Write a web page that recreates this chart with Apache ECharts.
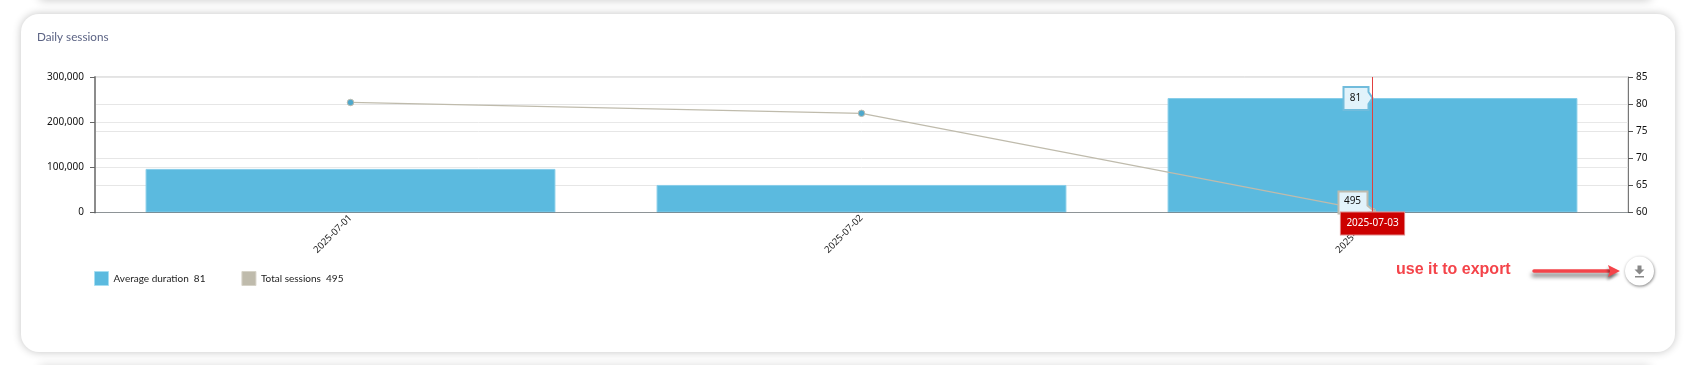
<!DOCTYPE html>
<html>
<head>
<meta charset="utf-8">
<style>
html,body{margin:0;padding:0;width:1688px;height:365px;background:#fff;overflow:hidden}
#top{position:absolute;left:40px;top:-30px;width:1610px;height:30px;box-shadow:0 0 9px rgba(0,0,0,.22)}
#below{position:absolute;left:40px;top:365px;width:1610px;height:30px;box-shadow:0 0 9px rgba(0,0,0,.14)}
#card{position:absolute;left:21px;top:14px;width:1654px;height:338px;background:#fff;border-radius:18px;box-shadow:0 0 9px rgba(0,0,0,.24)}
#chart{position:absolute;left:0;top:0;width:1688px;height:365px}
</style>
<script src="https://cdn.jsdelivr.net/npm/echarts@6/dist/echarts.min.js"></script>
</head>
<body>
<div id="top"></div><div id="below"></div><div id="card"></div>
<div id="chart"></div>
<script>
const categories = ['2025-07-01', '2025-07-02', '2025-07-03'];
const barValues = [96500, 61000, 253400];
const lineValues = [80.3, 78.3, 60.2];
const seriesNames = ['Average duration', 'Total sessions'];
const legendReadouts = ['81', '495'];
const hoverCategory = '2025-07-03';
const leftTicks = { min: 0, max: 300000, interval: 100000 };
const rightTicks = { min: 60, max: 85, interval: 5 };

const FONT = '"Noto Sans", sans-serif';
const SOFT = 'Lato, "Noto Sans", sans-serif';
const BLUE = '#5bbadf';
const TAUPE = '#bfbbac';

function callout(points, border, textX, textY) {
  return function (params, api) {
    const p = api.coord([api.value(0), api.value(1)]);
    return {
      type: 'group',
      children: [
        {
          type: 'polygon',
          shape: { points: points.map(q => [p[0] + q[0], p[1] + q[1]]) },
          style: { fill: '#e2f3fb', stroke: border, lineWidth: 2 }
        },
        {
          type: 'text',
          style: {
            x: p[0] + textX, y: p[1] + textY, text: api.value(2),
            fill: '#111', font: '10px ' + FONT, align: 'center', verticalAlign: 'middle'
          }
        }
      ]
    };
  };
}

const chart = echarts.init(document.getElementById('chart'), null, { renderer: 'canvas', width: 1688, height: 365 });
chart.setOption({
  animation: false,
  backgroundColor: 'transparent',
  textStyle: { fontFamily: FONT },
  title: {
    text: 'Daily sessions', left: 37, top: 31, padding: 0,
    textStyle: { fontFamily: SOFT, fontSize: 11.7, fontWeight: 'normal', color: '#5b6384' }
  },
  legend: {
    left: 94, top: 271, padding: 0, itemWidth: 14, itemHeight: 14, itemGap: 36, selectedMode: false,
    data: [
      { name: seriesNames[0], icon: 'rect', itemStyle: { color: BLUE, borderColor: '#a6def2', borderWidth: 1 } },
      { name: seriesNames[1], icon: 'rect', itemStyle: { color: TAUPE, borderColor: '#d6d3c8', borderWidth: 1 } }
    ],
    formatter: n => n + '  ' + legendReadouts[seriesNames.indexOf(n)],
    textStyle: { fontFamily: SOFT, fontSize: 10, color: '#222' }
  },
  grid: { left: 95, right: 60, top: 77, bottom: 152.5, show: true, borderColor: '#c6c6c6', borderWidth: 1, backgroundColor: 'transparent' },
  xAxis: {
    type: 'category', data: categories, z: 4,
    axisTick: { show: false },
    axisLine: { lineStyle: { color: 'rgba(70,80,85,.55)', width: 1 } },
    axisLabel: { rotate: 45, fontSize: 9.5, color: '#222', margin: 4, fontFamily: FONT, interval: 0 },
    splitLine: { show: false },
    axisPointer: {
      show: true, value: hoverCategory, status: 'show', type: 'line', triggerTooltip: false,
      lineStyle: { color: '#e2403f', width: 1, type: 'solid' },
      label: {
        show: true, margin: 0, backgroundColor: '#cc0000', color: '#fff', fontSize: 10, borderRadius: 0,
        fontFamily: FONT, padding: [6, 5.5, 6, 5.5], borderColor: '#e08a8a', borderWidth: 1, shadowBlur: 0
      }
    }
  },
  yAxis: [
    {
      type: 'value', position: 'left', min: leftTicks.min, max: leftTicks.max, interval: leftTicks.interval,
      axisLine: { show: true, lineStyle: { color: '#8c8c8c', width: 2 } },
      axisTick: { show: true, length: 5, lineStyle: { color: '#666' } },
      axisLabel: { fontSize: 10, color: '#111', margin: 11, fontFamily: FONT, formatter: v => v.toLocaleString('en-US') },
      splitLine: { show: true, lineStyle: { color: '#e8e8e8', width: 1 } }
    },
    {
      type: 'value', position: 'right', min: rightTicks.min, max: rightTicks.max, interval: rightTicks.interval,
      axisLine: { show: true, lineStyle: { color: '#777', width: 1 } },
      axisTick: { show: true, length: 5, lineStyle: { color: '#555' } },
      axisLabel: { fontSize: 10, color: '#111', margin: 8, fontFamily: FONT },
      splitLine: { show: true, lineStyle: { color: '#e6e6e6', width: 1 } }
    }
  ],
  series: [
    {
      name: seriesNames[0], type: 'bar', yAxisIndex: 0, data: barValues, barWidth: '80.2%', z: 2,
      itemStyle: { color: BLUE, borderColor: '#86cde9', borderWidth: 1 }
    },
    {
      name: seriesNames[1], type: 'line', yAxisIndex: 1, data: lineValues, z: 3,
      symbol: 'circle', symbolSize: 6.5,
      lineStyle: { color: TAUPE, width: 1.2 },
      itemStyle: { color: '#4ea8cc', borderColor: '#bdbcb0', borderWidth: 1 }
    },
    {
      name: 'callout-bar', type: 'custom', yAxisIndex: 0, z: 6,
      renderItem: callout([[-29, -11], [-4, -11], [-4, -6], [0, 0], [-4, 6], [-4, 12], [-29, 12]], '#71bcdc', -17, 0),
      data: [[hoverCategory, barValues[2], legendReadouts[0]]]
    },
    {
      name: 'callout-line', type: 'custom', yAxisIndex: 1, z: 6,
      renderItem: callout([[-34, -20], [-5, -20], [-5, -6], [2, 0], [-8, 2], [-34, 2]], '#bdbcb0', -20, -10),
      data: [[hoverCategory, lineValues[2], legendReadouts[1]]]
    }
  ],
  graphic: [
    {
      type: 'text', z: 20, left: 1396, top: 262,
      style: { text: 'use it to export', fill: '#f4444a', font: 'bold 16px "Liberation Sans", Arial, sans-serif' }
    },
    {
      type: 'line', z: 20,
      shape: { x1: 1534, y1: 271, x2: 1612, y2: 271 },
      style: { stroke: '#f4444a', lineWidth: 3.5, lineCap: 'round', shadowBlur: 4, shadowColor: 'rgba(0,0,0,.55)', shadowOffsetX: -1, shadowOffsetY: 4 }
    },
    {
      type: 'polygon', z: 21,
      shape: { points: [[1608, 265], [1620, 271], [1608, 277], [1610, 271]] },
      style: { fill: '#f4444a', shadowBlur: 3, shadowColor: 'rgba(0,0,0,.45)', shadowOffsetX: -1, shadowOffsetY: 3 }
    },
    {
      type: 'circle', z: 20, shape: { cx: 1639.5, cy: 271, r: 14.5 },
      style: { fill: '#fff', shadowBlur: 3, shadowColor: 'rgba(0,0,0,.5)', shadowOffsetX: 0.5, shadowOffsetY: 1 }
    },
    {
      type: 'polygon', z: 21,
      shape: { points: [[1637.5, 265.5], [1641.5, 265.5], [1641.5, 269.5], [1644.5, 269.5], [1639.5, 274.5], [1634.5, 269.5], [1637.5, 269.5]] },
      style: { fill: '#888' }
    },
    {
      type: 'rect', z: 21, shape: { x: 1635, y: 276, width: 9, height: 1.5 },
      style: { fill: '#888' }
    }
  ]
});
</script>
</body>
</html>
